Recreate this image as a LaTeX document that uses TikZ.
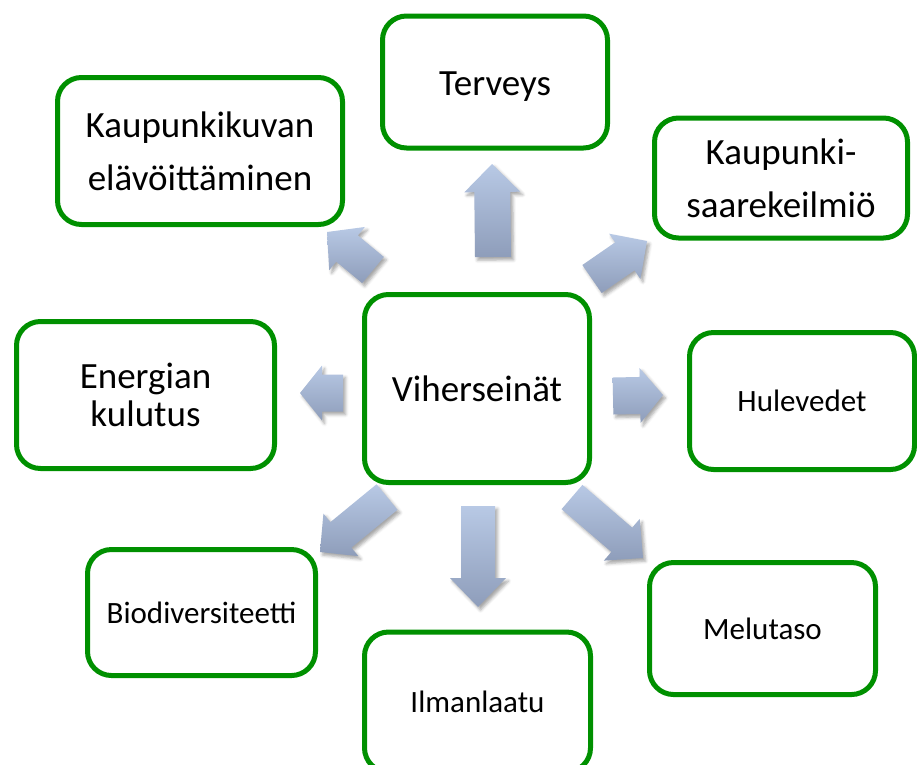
\documentclass[tikz,border=0pt]{standalone}
\usepackage{fontspec}
\setmainfont{Carlito}
\usetikzlibrary{calc,shadows.blur}
\definecolor{boxgreen}{RGB}{0,144,0}
\definecolor{arrtop}{RGB}{184,201,229}
\definecolor{arrbot}{RGB}{142,157,186}
\newcommand\bArrow[5]{%
  \coordinate (hb) at ($(#2)!#5!(#1)$);
  \path[arrowfill] ($(#1)!#3!90:(#2)$) -- ($(hb)!#3!90:(#2)$) -- ($(hb)!#4!90:(#2)$) -- (#2) -- ($(hb)!#4!-90:(#2)$) -- ($(hb)!#3!-90:(#2)$) -- ($(#1)!#3!-90:(#2)$) -- cycle;}
\begin{document}
\begin{tikzpicture}[x=1pt,y=-1pt,
  box/.style={draw=boxgreen, line width=5pt, rounded corners=24pt, fill=white, align=center, inner sep=0pt},
  big/.style={font=\fontsize{37pt}{53pt}\selectfont},
  small/.style={font=\fontsize{31pt}{38pt}\selectfont},
  bigone/.style={big, text height=26pt, text depth=0pt},
  smallone/.style={small, text height=21.7pt, text depth=0pt},
  arrowfill/.style={top color=arrtop, bottom color=arrbot, blur shadow={shadow xshift=2.5pt,shadow yshift=-3pt,shadow blur radius=3pt,shadow opacity=35}}]
\useasboundingbox (0,0) rectangle (917,764);
\clip (0,0) rectangle (917,764);
% boxes
\node[box,bigone,minimum width=225pt,minimum height=188pt] (c) at (477,388.5) {Viherseinät};
\node[box,bigone,minimum width=225pt,minimum height=132pt] (ter) at (495,82) {Terveys};
\node[box,big,minimum width=285pt,minimum height=147pt] (kau) at (200,151) {Kaupunkikuvan\\elävöittäminen};
\node[box,big,minimum width=253pt,minimum height=120pt] (saa) at (781,178) {Kaupunki-\\saarekeilmiö};
\node[box,font=\fontsize{37pt}{38pt}\selectfont,minimum width=258pt,minimum height=147pt] (ene) at (145.5,395) {Energian\\kulutus};
\node[box,smallone,minimum width=225pt,minimum height=137pt] (hul) at (802,401) {Hulevedet};
\node[box,smallone,minimum width=228pt,minimum height=126pt] (bio) at (201.5,612.5) {Biodiversiteetti};
\node[box,smallone,minimum width=226pt,minimum height=140pt] (ilm) at (477.5,702) {Ilmanlaatu};
\node[box,smallone,minimum width=226pt,minimum height=132pt] (mel) at (762.5,628.5) {Melutaso};
% arrow end points
\coordinate (aUpT) at (493,257);  \coordinate (aUpH) at (492,164);
\coordinate (aDnT) at (478,506);  \coordinate (aDnH) at (478,607);
\coordinate (aLfT) at (343,393);  \coordinate (aLfH) at (300,393);
\coordinate (aRtT) at (613,396);  \coordinate (aRtH) at (663,395);
\coordinate (aULT) at (373,270);  \coordinate (aULH) at (327,232);
\coordinate (aURT) at (592,279);  \coordinate (aURH) at (647,241);
\coordinate (aDLT) at (387,497);  \coordinate (aDLH) at (320,552);
\coordinate (aDRT) at (572,497);  \coordinate (aDRH) at (643,558);
% block arrows
\bArrow{aUpT}{aUpH}{18pt}{28pt}{28pt}
\bArrow{aDnT}{aDnH}{17pt}{28pt}{29pt}
\bArrow{aLfT}{aLfH}{18.5pt}{27.5pt}{22pt}
\bArrow{aRtT}{aRtH}{18.5pt}{27.5pt}{23pt}
\bArrow{aULT}{aULH}{17pt}{28pt}{26pt}
\bArrow{aURT}{aURH}{17pt}{27.5pt}{27pt}
\bArrow{aDLT}{aDLH}{16.5pt}{27.5pt}{27pt}
\bArrow{aDRT}{aDRH}{16pt}{27.5pt}{28pt}
\end{tikzpicture}
\end{document}
